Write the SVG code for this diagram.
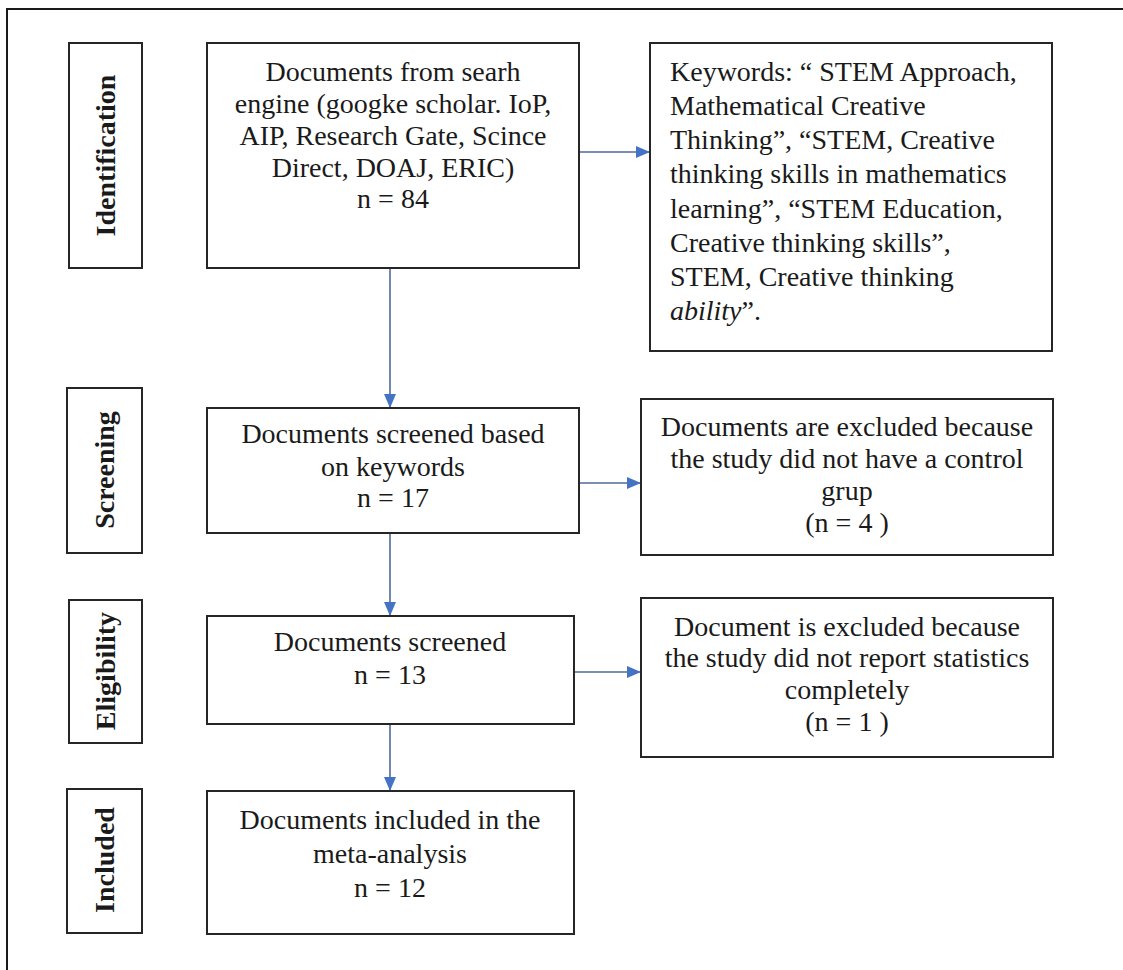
<svg xmlns="http://www.w3.org/2000/svg" width="1123" height="970" viewBox="0 0 1123 970">
<defs>
<marker id="ah" viewBox="0 0 14 12" refX="14" refY="6" markerWidth="14" markerHeight="12" markerUnits="userSpaceOnUse" orient="auto">
<path d="M0,0 L14,6 L0,12 Z" fill="#4472c4"/>
</marker>
<style>
.box{fill:#fff;stroke:#262626;stroke-width:2}
.t{font-family:"Liberation Serif","Times New Roman",serif;font-size:28px;fill:#1a1a1a}
.c{text-anchor:middle}
.lab{font-family:"Liberation Serif","Times New Roman",serif;font-size:28px;font-weight:bold;fill:#1a1a1a;text-anchor:middle;dominant-baseline:central}
.con{stroke:#4f6b96;stroke-width:1.6;fill:none;marker-end:url(#ah)}
</style>
</defs>
<rect x="0" y="0" width="1123" height="970" fill="#fff"/>
<path d="M7,970 L7,9 L1123,9" fill="none" stroke="#1a1a1a" stroke-width="2"/>

<g id="connectors">
<line class="con" x1="579" y1="152" x2="650" y2="152"/>
<line class="con" x1="390" y1="268" x2="390" y2="408"/>
<line class="con" x1="579" y1="483" x2="641" y2="483"/>
<line class="con" x1="390" y1="533" x2="390" y2="616"/>
<line class="con" x1="574" y1="672" x2="641" y2="672"/>
<line class="con" x1="390" y1="724" x2="390" y2="791"/>
</g>

<g id="label-identification">
<rect class="box" x="69" y="43" width="73" height="225"/>
<text class="lab" transform="translate(105.5,155.5) rotate(-90)">Identification</text>
</g>
<g id="label-screening">
<rect class="box" x="67" y="388" width="75" height="165"/>
<text class="lab" transform="translate(104.5,470) rotate(-90)">Screening</text>
</g>
<g id="label-eligibility">
<rect class="box" x="69" y="600" width="73" height="143"/>
<text class="lab" transform="translate(105.5,671) rotate(-90)">Eligibility</text>
</g>
<g id="label-included">
<rect class="box" x="67" y="789" width="75" height="144"/>
<text class="lab" transform="translate(104.5,860) rotate(-90)">Included</text>
</g>

<g id="node-search">
<rect class="box" x="207" y="43" width="372" height="225"/>
<text class="t c" x="393" y="81">Documents from searh</text>
<text class="t c" x="393" y="113">engine (googke scholar. IoP,</text>
<text class="t c" x="393" y="145">AIP, Research Gate, Scince</text>
<text class="t c" x="393" y="177">Direct, DOAJ, ERIC)</text>
<text class="t c" x="393" y="208">n = 84</text>
</g>

<g id="node-keywords">
<rect class="box" x="650" y="43" width="402" height="308"/>
<text class="t" x="670" y="81">Keywords: “ STEM Approach,</text>
<text class="t" x="670" y="115">Mathematical Creative</text>
<text class="t" x="670" y="149">Thinking”, “STEM, Creative</text>
<text class="t" x="670" y="183">thinking skills in mathematics</text>
<text class="t" x="670" y="218">learning”, “STEM Education,</text>
<text class="t" x="670" y="252">Creative thinking skills”,</text>
<text class="t" x="670" y="286">STEM, Creative thinking</text>
<text class="t" x="670" y="320"><tspan font-style="italic">ability</tspan>”.</text>
</g>

<g id="node-screened-keywords">
<rect class="box" x="207" y="408" width="372" height="125"/>
<text class="t c" x="393" y="443">Documents screened based</text>
<text class="t c" x="393" y="476">on keywords</text>
<text class="t c" x="393" y="507">n = 17</text>
</g>

<g id="node-excluded-control">
<rect class="box" x="641" y="399" width="412" height="156"/>
<text class="t c" x="847" y="436">Documents are excluded because</text>
<text class="t c" x="847" y="468">the study did not have a control</text>
<text class="t c" x="847" y="500">grup</text>
<text class="t c" x="847" y="532">(n = 4 )</text>
</g>

<g id="node-screened">
<rect class="box" x="207" y="616" width="367" height="108"/>
<text class="t c" x="390" y="651">Documents screened</text>
<text class="t c" x="390" y="684">n = 13</text>
</g>

<g id="node-excluded-statistics">
<rect class="box" x="641" y="598" width="412" height="159"/>
<text class="t c" x="847" y="636">Document is excluded because</text>
<text class="t c" x="847" y="667">the study did not report statistics</text>
<text class="t c" x="847" y="699">completely</text>
<text class="t c" x="847" y="731">(n = 1 )</text>
</g>

<g id="node-included">
<rect class="box" x="207" y="791" width="367" height="143"/>
<text class="t c" x="390" y="829">Documents included in the</text>
<text class="t c" x="390" y="863">meta-analysis</text>
<text class="t c" x="390" y="897">n =  12</text>
</g>
</svg>
